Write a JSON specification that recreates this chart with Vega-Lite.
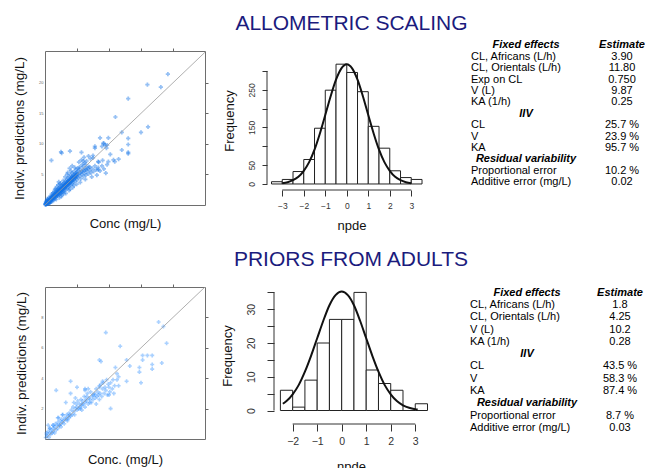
{
"$schema":"https://vega.github.io/schema/vega-lite/v6.json",
"autosize":{"type":"pad"},
"padding":{"left":12,"top":13,"right":0,"bottom":0},
"background":"white",
"config":{"view":{"stroke":null},"font":"Liberation Sans","axis":{"grid":false,"labelFont":"Liberation Sans","titleFont":"Liberation Sans","titleFontWeight":"normal","titleColor":"#111","labelColor":"#333","tickColor":"#333","labelOverlap":false}},
"datasets":{
"scatter_top":[
{"conc":0.1,"ipred":0.2},{"conc":0.2,"ipred":0.1},{"conc":0.2,"ipred":0.4},{"conc":0.3,"ipred":0.3},{"conc":0.3,"ipred":0.6},{"conc":0.4,"ipred":0.2},{"conc":0.4,"ipred":0.5},{"conc":0.5,"ipred":0.4},{"conc":0.5,"ipred":0.8},{"conc":0.6,"ipred":0.3},{"conc":0.6,"ipred":0.6},{"conc":0.7,"ipred":0.5},{"conc":0.7,"ipred":0.9},{"conc":0.8,"ipred":0.6},{"conc":0.8,"ipred":1.1},{"conc":0.9,"ipred":0.7},{"conc":0.9,"ipred":1.0},{"conc":1.0,"ipred":0.8},{"conc":1.0,"ipred":1.3},{"conc":1.1,"ipred":0.9},{"conc":1.1,"ipred":1.5},{"conc":1.2,"ipred":1.0},{"conc":1.2,"ipred":1.3},{"conc":1.3,"ipred":1.1},{"conc":1.3,"ipred":1.7},{"conc":1.4,"ipred":1.2},{"conc":1.4,"ipred":1.5},{"conc":1.5,"ipred":1.0},{"conc":1.5,"ipred":1.9},{"conc":0.15,"ipred":0.5},{"conc":0.25,"ipred":0.7},{"conc":0.45,"ipred":0.9},{"conc":0.55,"ipred":0.2},{"conc":0.65,"ipred":1.2},{"conc":0.75,"ipred":0.3},{"conc":0.85,"ipred":1.4},{"conc":0.95,"ipred":0.5},{"conc":1.05,"ipred":1.8},{"conc":1.15,"ipred":0.6},{"conc":1.25,"ipred":2.0},{"conc":1.35,"ipred":0.8},{"conc":1.45,"ipred":2.2},{"conc":0.35,"ipred":1.0},{"conc":0.05,"ipred":0.1},{"conc":0.1,"ipred":0.05},
{"conc":0.5,"ipred":0.6},{"conc":0.7,"ipred":0.7},{"conc":0.9,"ipred":0.85},{"conc":1.1,"ipred":1.1},{"conc":1.3,"ipred":1.4},{"conc":1.6,"ipred":1.6},{"conc":1.8,"ipred":1.9},{"conc":2.0,"ipred":2.1},{"conc":2.2,"ipred":2.3},{"conc":2.4,"ipred":2.5},{"conc":2.6,"ipred":2.6},{"conc":2.8,"ipred":2.9},{"conc":3.0,"ipred":3.1},{"conc":3.2,"ipred":3.2},{"conc":3.4,"ipred":3.5},{"conc":3.6,"ipred":3.6},{"conc":3.8,"ipred":3.9},{"conc":4.0,"ipred":4.1},{"conc":4.2,"ipred":4.3},{"conc":4.4,"ipred":4.5},{"conc":4.6,"ipred":4.7},{"conc":4.8,"ipred":4.9},
{"conc":0.1,"ipred":0.15},{"conc":0.2,"ipred":0.3},{"conc":0.3,"ipred":0.2},{"conc":0.4,"ipred":0.45},{"conc":0.5,"ipred":0.35},{"conc":0.6,"ipred":0.75},{"conc":0.7,"ipred":0.6},{"conc":0.8,"ipred":0.9},{"conc":0.9,"ipred":0.75},{"conc":1.0,"ipred":1.1},{"conc":1.1,"ipred":0.95},{"conc":1.2,"ipred":1.35},{"conc":1.3,"ipred":1.2},{"conc":1.4,"ipred":1.6},{"conc":1.5,"ipred":1.35},{"conc":1.6,"ipred":1.75},{"conc":1.7,"ipred":1.5},{"conc":1.8,"ipred":2.0},{"conc":1.9,"ipred":1.7},{"conc":2.0,"ipred":2.3},{"conc":2.1,"ipred":1.8},{"conc":2.2,"ipred":2.5},{"conc":2.3,"ipred":2.0},{"conc":2.4,"ipred":2.7},{"conc":2.5,"ipred":2.3},{"conc":2.6,"ipred":2.9},{"conc":2.7,"ipred":2.5},{"conc":2.8,"ipred":3.1},{"conc":2.9,"ipred":2.7},{"conc":3.0,"ipred":3.3},{"conc":3.1,"ipred":2.9},{"conc":3.2,"ipred":3.5},{"conc":3.3,"ipred":3.1},{"conc":3.4,"ipred":3.7},{"conc":3.5,"ipred":3.3},{"conc":3.6,"ipred":3.9},{"conc":3.7,"ipred":3.5},{"conc":3.8,"ipred":4.1},{"conc":3.9,"ipred":3.7},{"conc":4.0,"ipred":4.3},{"conc":4.1,"ipred":3.9},{"conc":4.2,"ipred":4.6},{"conc":4.3,"ipred":4.1},{"conc":4.4,"ipred":4.8},{"conc":4.5,"ipred":4.3},{"conc":4.6,"ipred":5.0},{"conc":4.7,"ipred":4.5},{"conc":4.8,"ipred":5.2},{"conc":4.9,"ipred":4.6},{"conc":5.0,"ipred":5.4},
{"conc":0.15,"ipred":0.3},{"conc":0.35,"ipred":0.5},{"conc":0.55,"ipred":0.55},{"conc":0.75,"ipred":0.8},{"conc":0.95,"ipred":1.05},{"conc":1.15,"ipred":1.25},{"conc":1.35,"ipred":1.45},{"conc":1.55,"ipred":1.6},{"conc":1.75,"ipred":1.85},{"conc":1.95,"ipred":2.05},{"conc":2.15,"ipred":2.2},{"conc":2.35,"ipred":2.45},{"conc":2.55,"ipred":2.6},{"conc":2.75,"ipred":2.8},{"conc":2.95,"ipred":3.0},{"conc":3.15,"ipred":3.2},{"conc":3.35,"ipred":3.4},{"conc":3.55,"ipred":3.6},{"conc":3.75,"ipred":3.8},{"conc":3.95,"ipred":4.0},{"conc":4.15,"ipred":4.2},{"conc":4.35,"ipred":4.4},{"conc":4.55,"ipred":4.6},{"conc":4.75,"ipred":4.8},{"conc":4.95,"ipred":5.0},
{"conc":5.2,"ipred":5.0},{"conc":5.5,"ipred":5.2},{"conc":5.8,"ipred":5.5},{"conc":6.1,"ipred":5.6},{"conc":6.4,"ipred":5.8},{"conc":6.7,"ipred":6.0},{"conc":7.0,"ipred":6.2},{"conc":5.1,"ipred":6.0},{"conc":5.4,"ipred":5.9},{"conc":5.9,"ipred":6.3},{"conc":6.3,"ipred":6.6},
{"conc":1.6,"ipred":1.4},{"conc":1.6,"ipred":1.8},{"conc":1.7,"ipred":1.3},{"conc":1.7,"ipred":2.1},{"conc":1.8,"ipred":1.6},{"conc":1.8,"ipred":2.4},{"conc":1.9,"ipred":1.5},{"conc":1.9,"ipred":2.0},{"conc":2.0,"ipred":1.7},{"conc":2.0,"ipred":2.6},{"conc":2.1,"ipred":1.9},{"conc":2.1,"ipred":2.3},{"conc":2.2,"ipred":1.6},{"conc":2.2,"ipred":2.8},{"conc":2.3,"ipred":2.1},{"conc":2.3,"ipred":2.5},{"conc":2.4,"ipred":1.9},{"conc":2.4,"ipred":3.0},{"conc":2.5,"ipred":2.2},{"conc":2.5,"ipred":2.7},{"conc":2.6,"ipred":2.0},{"conc":2.6,"ipred":3.2},{"conc":2.7,"ipred":2.4},{"conc":2.7,"ipred":2.9},{"conc":2.8,"ipred":2.2},{"conc":2.8,"ipred":3.4},{"conc":2.9,"ipred":2.6},{"conc":2.9,"ipred":3.0},{"conc":3.0,"ipred":2.3},{"conc":3.0,"ipred":3.6},{"conc":1.65,"ipred":2.7},{"conc":1.85,"ipred":3.0},{"conc":2.05,"ipred":3.3},{"conc":2.25,"ipred":1.2},{"conc":2.45,"ipred":3.6},{"conc":2.65,"ipred":1.6},{"conc":2.85,"ipred":4.0},{"conc":1.75,"ipred":0.9},{"conc":2.15,"ipred":3.8},{"conc":2.55,"ipred":1.4},{"conc":2.95,"ipred":1.9},{"conc":1.55,"ipred":2.5},{"conc":2.35,"ipred":3.4},
{"conc":3.1,"ipred":2.8},{"conc":3.1,"ipred":3.3},{"conc":3.2,"ipred":2.5},{"conc":3.2,"ipred":3.9},{"conc":3.3,"ipred":3.0},{"conc":3.3,"ipred":3.5},{"conc":3.4,"ipred":2.7},{"conc":3.4,"ipred":4.2},{"conc":3.5,"ipred":3.2},{"conc":3.5,"ipred":3.7},{"conc":3.6,"ipred":2.9},{"conc":3.6,"ipred":4.4},{"conc":3.7,"ipred":3.4},{"conc":3.7,"ipred":3.9},{"conc":3.8,"ipred":3.1},{"conc":3.8,"ipred":4.7},{"conc":3.9,"ipred":3.6},{"conc":3.9,"ipred":4.1},{"conc":4.0,"ipred":3.3},{"conc":4.0,"ipred":4.9},{"conc":4.1,"ipred":3.8},{"conc":4.1,"ipred":4.3},{"conc":4.2,"ipred":3.5},{"conc":4.2,"ipred":5.2},{"conc":4.3,"ipred":4.0},{"conc":4.3,"ipred":4.5},{"conc":4.4,"ipred":3.7},{"conc":4.5,"ipred":4.2},{"conc":4.5,"ipred":5.4},{"conc":4.6,"ipred":4.6},{"conc":4.7,"ipred":3.9},{"conc":4.8,"ipred":4.4},{"conc":4.8,"ipred":5.8},{"conc":4.9,"ipred":4.8},{"conc":5.0,"ipred":4.1},{"conc":5.0,"ipred":5.1},{"conc":3.15,"ipred":4.6},{"conc":3.45,"ipred":5.0},{"conc":3.75,"ipred":2.4},{"conc":4.05,"ipred":5.6},{"conc":4.35,"ipred":2.9},{"conc":4.65,"ipred":6.1},{"conc":4.95,"ipred":3.4},{"conc":3.25,"ipred":1.9},{"conc":3.55,"ipred":5.3},{"conc":3.85,"ipred":6.0},{"conc":4.25,"ipred":6.4},{"conc":4.55,"ipred":3.2},{"conc":3.95,"ipred":2.6},
{"conc":5.2,"ipred":4.5},{"conc":5.2,"ipred":5.6},{"conc":5.4,"ipred":4.8},{"conc":5.4,"ipred":6.2},{"conc":5.6,"ipred":4.3},{"conc":5.6,"ipred":5.4},{"conc":5.8,"ipred":5.0},{"conc":5.8,"ipred":6.6},{"conc":6.0,"ipred":4.7},{"conc":6.0,"ipred":5.8},{"conc":6.2,"ipred":5.2},{"conc":6.2,"ipred":6.9},{"conc":6.4,"ipred":4.9},{"conc":6.4,"ipred":6.0},{"conc":6.6,"ipred":5.5},{"conc":6.8,"ipred":5.1},{"conc":6.8,"ipred":6.3},{"conc":7.0,"ipred":5.7},{"conc":7.2,"ipred":5.3},{"conc":7.4,"ipred":6.0},{"conc":7.6,"ipred":5.5},{"conc":7.8,"ipred":6.4},{"conc":8.0,"ipred":5.8},{"conc":8.3,"ipred":6.1},{"conc":8.6,"ipred":5.6},{"conc":8.9,"ipred":6.4},{"conc":9.2,"ipred":5.9},{"conc":5.3,"ipred":7.0},{"conc":5.7,"ipred":7.4},{"conc":6.1,"ipred":7.8},{"conc":6.5,"ipred":7.2},{"conc":7.1,"ipred":7.6},{"conc":7.5,"ipred":8.1},{"conc":5.5,"ipred":3.7},{"conc":6.3,"ipred":4.2},{"conc":7.3,"ipred":4.6},{"conc":8.1,"ipred":4.9},{"conc":9.5,"ipred":5.2},{"conc":8.4,"ipred":7.0},{"conc":9.0,"ipred":7.3},{"conc":9.7,"ipred":6.6},
{"conc":8.6,"ipred":11.0},{"conc":9.1,"ipred":10.1},{"conc":7.8,"ipred":9.6},{"conc":5.7,"ipred":8.6},{"conc":2.5,"ipred":8.7},{"conc":1.0,"ipred":7.3},{"conc":12.0,"ipred":9.0},{"conc":9.9,"ipred":7.1},{"conc":10.7,"ipred":7.4},{"conc":8.3,"ipred":7.1},{"conc":7.5,"ipred":7.7},{"conc":6.8,"ipred":8.0},{"conc":6.0,"ipred":7.2},{"conc":2.6,"ipred":8.5},{"conc":3.9,"ipred":8.8},{"conc":9.9,"ipred":11.0},{"conc":9.7,"ipred":9.8},{"conc":7.8,"ipred":9.3},{"conc":8.3,"ipred":5.8},{"conc":10.9,"ipred":7.1},
{"conc":19.2,"ipred":21.4},{"conc":16.0,"ipred":19.7},{"conc":18.1,"ipred":19.3},{"conc":13.0,"ipred":17.4},{"conc":11.0,"ipred":14.4},{"conc":16.1,"ipred":12.8},{"conc":15.0,"ipred":11.9},{"conc":13.0,"ipred":10.9},{"conc":13.0,"ipred":9.9},{"conc":12.0,"ipred":11.9},{"conc":13.0,"ipred":8.6},{"conc":13.0,"ipred":8.4},{"conc":9.6,"ipred":9.3},{"conc":9.2,"ipred":10.1},{"conc":8.9,"ipred":9.6},{"conc":9.4,"ipred":9.8},{"conc":11.5,"ipred":7.5},{"conc":10.2,"ipred":8.3}
],
"scatter_bottom":[
{"conc":0.05,"ipred":0.1},{"conc":0.1,"ipred":0.3},{"conc":0.15,"ipred":0.2},{"conc":0.2,"ipred":0.5},{"conc":0.25,"ipred":0.1},{"conc":0.3,"ipred":0.4},{"conc":0.3,"ipred":0.7},{"conc":0.35,"ipred":0.3},{"conc":0.4,"ipred":0.6},{"conc":0.45,"ipred":0.4},{"conc":0.5,"ipred":0.9},{"conc":0.5,"ipred":0.5},{"conc":0.55,"ipred":0.7},{"conc":0.6,"ipred":0.4},{"conc":0.6,"ipred":0.8},{"conc":0.65,"ipred":1.0},{"conc":0.7,"ipred":0.6},{"conc":0.75,"ipred":0.9},{"conc":0.8,"ipred":0.7},{"conc":0.8,"ipred":1.1},{"conc":0.85,"ipred":1.4},{"conc":0.9,"ipred":0.9},{"conc":0.95,"ipred":1.2},{"conc":1.0,"ipred":1.0},{"conc":1.0,"ipred":0.8},{"conc":1.05,"ipred":1.3},{"conc":1.1,"ipred":1.1},{"conc":1.1,"ipred":1.6},{"conc":1.15,"ipred":1.2},{"conc":1.2,"ipred":1.0},{"conc":1.25,"ipred":1.4},{"conc":1.3,"ipred":1.3},{"conc":1.35,"ipred":1.6},{"conc":1.4,"ipred":1.2},{"conc":1.45,"ipred":1.5},{"conc":1.5,"ipred":1.4},{"conc":1.5,"ipred":1.7},{"conc":1.55,"ipred":1.6},{"conc":1.6,"ipred":1.5},{"conc":1.65,"ipred":1.9},{"conc":1.7,"ipred":1.6},{"conc":1.75,"ipred":2.1},{"conc":1.8,"ipred":1.8},{"conc":1.85,"ipred":1.6},{"conc":1.9,"ipred":2.0},{"conc":1.95,"ipred":2.3},{"conc":2.0,"ipred":1.9},{"conc":2.0,"ipred":2.1},{"conc":2.05,"ipred":2.5},{"conc":2.1,"ipred":2.0},{"conc":2.15,"ipred":2.3},{"conc":2.2,"ipred":2.1},{"conc":2.25,"ipred":2.6},{"conc":2.3,"ipred":2.2},{"conc":2.3,"ipred":1.9},{"conc":2.35,"ipred":2.5},{"conc":2.4,"ipred":2.3},{"conc":2.45,"ipred":2.8},{"conc":2.5,"ipred":2.4},{"conc":2.5,"ipred":2.1},{"conc":2.55,"ipred":2.6},{"conc":2.6,"ipred":2.5},{"conc":2.65,"ipred":3.0},{"conc":2.7,"ipred":2.3},{"conc":2.75,"ipred":2.7},{"conc":2.8,"ipred":2.6},{"conc":2.85,"ipred":3.1},{"conc":2.9,"ipred":2.4},{"conc":2.95,"ipred":2.8},{"conc":3.0,"ipred":2.9},{"conc":3.0,"ipred":2.6},{"conc":3.1,"ipred":3.0},{"conc":3.15,"ipred":2.7},{"conc":3.2,"ipred":3.3},{"conc":3.25,"ipred":2.8},{"conc":3.3,"ipred":3.1},{"conc":3.35,"ipred":2.9},{"conc":3.4,"ipred":3.5},{"conc":3.45,"ipred":3.0},{"conc":3.5,"ipred":3.6},{"conc":3.55,"ipred":2.8},{"conc":3.6,"ipred":3.3},{"conc":3.65,"ipred":3.7},{"conc":3.7,"ipred":3.0},{"conc":3.75,"ipred":3.4},{"conc":3.8,"ipred":3.2},{"conc":3.85,"ipred":3.9},{"conc":3.9,"ipred":2.9},{"conc":3.95,"ipred":3.6},{"conc":4.0,"ipred":3.4},{"conc":4.05,"ipred":3.1},{"conc":4.1,"ipred":3.7},{"conc":4.2,"ipred":3.3},{"conc":4.25,"ipred":3.9},{"conc":4.35,"ipred":3.5},{"conc":4.5,"ipred":3.9},{"conc":4.6,"ipred":3.5},
{"conc":7.1,"ipred":7.7},{"conc":7.4,"ipred":7.4},{"conc":7.6,"ipred":6.3},{"conc":3.8,"ipred":7.0},{"conc":4.7,"ipred":6.1},{"conc":3.4,"ipred":5.2},{"conc":3.5,"ipred":5.1},{"conc":0.7,"ipred":3.2},{"conc":1.6,"ipred":3.8},{"conc":6.1,"ipred":5.5},{"conc":6.4,"ipred":5.5},{"conc":6.7,"ipred":5.5},{"conc":6.1,"ipred":5.2},{"conc":7.3,"ipred":5.0},{"conc":6.7,"ipred":4.9},{"conc":6.7,"ipred":4.6},{"conc":5.9,"ipred":4.7},{"conc":5.9,"ipred":4.4},{"conc":6.0,"ipred":3.7},{"conc":5.1,"ipred":3.8},{"conc":5.3,"ipred":4.8},{"conc":5.1,"ipred":5.2},{"conc":4.4,"ipred":4.7},{"conc":4.5,"ipred":4.3},{"conc":4.6,"ipred":4.1},{"conc":4.1,"ipred":2.0},{"conc":4.0,"ipred":2.9},{"conc":4.3,"ipred":3.0},{"conc":3.4,"ipred":3.4},{"conc":3.6,"ipred":3.8},{"conc":2.7,"ipred":3.3},{"conc":2.5,"ipred":3.2},{"conc":2.0,"ipred":3.4},{"conc":1.9,"ipred":2.7},{"conc":2.6,"ipred":2.8},{"conc":2.8,"ipred":2.4},{"conc":2.3,"ipred":2.3},{"conc":1.8,"ipred":2.4},{"conc":2.2,"ipred":2.0},{"conc":3.2,"ipred":2.3},{"conc":3.4,"ipred":2.6},{"conc":3.1,"ipred":2.9},{"conc":1.1,"ipred":1.6},{"conc":1.4,"ipred":1.3},{"conc":0.8,"ipred":1.4},{"conc":0.5,"ipred":0.9},{"conc":0.3,"ipred":0.7},{"conc":0.1,"ipred":0.4},{"conc":0.9,"ipred":0.9},{"conc":0.2,"ipred":0.9},{"conc":1.6,"ipred":3.0},{"conc":1.3,"ipred":2.4},{"conc":2.5,"ipred":3.3}
],
"hist_top":[
{"bin_start":-3.5,"bin_end":-3,"count":6},{"bin_start":-3,"bin_end":-2.5,"count":12},{"bin_start":-2.5,"bin_end":-2,"count":33},{"bin_start":-2,"bin_end":-1.5,"count":65},{"bin_start":-1.5,"bin_end":-1,"count":148},{"bin_start":-1,"bin_end":-0.5,"count":249},{"bin_start":-0.5,"bin_end":0,"count":318},{"bin_start":0,"bin_end":0.5,"count":296},{"bin_start":0.5,"bin_end":1,"count":245},{"bin_start":1,"bin_end":1.5,"count":153},{"bin_start":1.5,"bin_end":2,"count":95},{"bin_start":2,"bin_end":2.5,"count":35},{"bin_start":2.5,"bin_end":3,"count":17},{"bin_start":3,"bin_end":3.5,"count":12}
],
"curve_top":[
{"npde":-3,"density":2.2},{"npde":-2.75,"density":4.8},{"npde":-2.5,"density":10},{"npde":-2.25,"density":19},{"npde":-2,"density":35},{"npde":-1.75,"density":58},{"npde":-1.5,"density":91},{"npde":-1.25,"density":134},{"npde":-1,"density":183},{"npde":-0.75,"density":233},{"npde":-0.5,"density":277},{"npde":-0.25,"density":307},{"npde":0,"density":318},{"npde":0.25,"density":307},{"npde":0.5,"density":277},{"npde":0.75,"density":233},{"npde":1,"density":183},{"npde":1.25,"density":134},{"npde":1.5,"density":91},{"npde":1.75,"density":58},{"npde":2,"density":35},{"npde":2.25,"density":19},{"npde":2.5,"density":10},{"npde":2.75,"density":4.8},{"npde":3,"density":2.2}
],
"hist_bottom":[
{"bin_start":-2.5,"bin_end":-2,"count":6},{"bin_start":-2,"bin_end":-1.5,"count":1},{"bin_start":-1.5,"bin_end":-1,"count":9},{"bin_start":-1,"bin_end":-0.5,"count":20},{"bin_start":-0.5,"bin_end":0,"count":27},{"bin_start":0,"bin_end":0.5,"count":27},{"bin_start":0.5,"bin_end":1,"count":35},{"bin_start":1,"bin_end":1.5,"count":12},{"bin_start":1.5,"bin_end":2,"count":8},{"bin_start":2,"bin_end":2.5,"count":6},{"bin_start":2.5,"bin_end":3,"count":0},{"bin_start":3,"bin_end":3.5,"count":2}
],
"curve_bottom":[
{"npde":-2.4,"density":2.0},{"npde":-2.25,"density":2.8},{"npde":-2,"density":4.8},{"npde":-1.75,"density":7.6},{"npde":-1.5,"density":11.5},{"npde":-1.25,"density":16.2},{"npde":-1,"density":21.4},{"npde":-0.75,"density":26.6},{"npde":-0.5,"density":31.2},{"npde":-0.25,"density":34.2},{"npde":0,"density":35.3},{"npde":0.25,"density":34.2},{"npde":0.5,"density":31.2},{"npde":0.75,"density":26.6},{"npde":1,"density":21.4},{"npde":1.25,"density":16.2},{"npde":1.5,"density":11.5},{"npde":1.75,"density":7.6},{"npde":2,"density":4.8},{"npde":2.25,"density":2.8},{"npde":2.5,"density":1.55},{"npde":2.75,"density":0.8},{"npde":3,"density":0.39},{"npde":3.1,"density":0.29}
],
"table_top":[
{"line":1,"parameter":"Fixed effects","estimate":"Estimate","kind":"header"},
{"line":2,"parameter":"CL, Africans (L/h)","estimate":"3.90","kind":"item"},
{"line":3,"parameter":"CL, Orientals (L/h)","estimate":"11.80","kind":"item"},
{"line":4,"parameter":"Exp on CL","estimate":"0.750","kind":"item"},
{"line":5,"parameter":"V (L)","estimate":"9.87","kind":"item"},
{"line":6,"parameter":"KA (1/h)","estimate":"0.25","kind":"item"},
{"line":7,"parameter":"IIV","estimate":"","kind":"section"},
{"line":8,"parameter":"CL","estimate":"25.7 %","kind":"item"},
{"line":9,"parameter":"V","estimate":"23.9 %","kind":"item"},
{"line":10,"parameter":"KA","estimate":"95.7 %","kind":"item"},
{"line":11,"parameter":"Residual variability","estimate":"","kind":"section"},
{"line":12,"parameter":"Proportional error","estimate":"10.2 %","kind":"item"},
{"line":13,"parameter":"Additive error (mg/L)","estimate":"0.02","kind":"item"}
],
"table_bottom":[
{"line":1,"parameter":"Fixed effects","estimate":"Estimate","kind":"header"},
{"line":2,"parameter":"CL, Africans (L/h)","estimate":"1.8","kind":"item"},
{"line":3,"parameter":"CL, Orientals (L/h)","estimate":"4.25","kind":"item"},
{"line":4,"parameter":"V (L)","estimate":"10.2","kind":"item"},
{"line":5,"parameter":"KA (1/h)","estimate":"0.28","kind":"item"},
{"line":6,"parameter":"IIV","estimate":"","kind":"section"},
{"line":7,"parameter":"CL","estimate":"43.5 %","kind":"item"},
{"line":8,"parameter":"V","estimate":"58.3 %","kind":"item"},
{"line":9,"parameter":"KA","estimate":"87.4 %","kind":"item"},
{"line":10,"parameter":"Residual variability","estimate":"","kind":"section"},
{"line":11,"parameter":"Proportional error","estimate":"8.7 %","kind":"item"},
{"line":12,"parameter":"Additive error (mg/L)","estimate":"0.03","kind":"item"}
]
},
"vconcat":[
{"hconcat":[
 {"width":160,"height":154,"view":{"stroke":"#6e6e6e","strokeWidth":1},
  "layer":[
   {"data":{"name":"scatter_top"},"mark":{"type":"point","shape":"cross","filled":true,"size":18,"color":"#1373e6","opacity":0.45},
    "encoding":{
     "x":{"field":"conc","type":"quantitative","scale":{"domain":[0,25],"nice":false,"zero":false},"axis":{"orient":"bottom","title":"Conc (mg/L)","titleFontSize":13,"titlePadding":12,"labels":false,"ticks":false,"domain":false}},
     "y":{"field":"ipred","type":"quantitative","scale":{"domain":[0,25.2],"nice":false,"zero":false},"axis":{"orient":"left","title":"Indiv. predictions (mg/L)","titleFontSize":13.5,"titlePadding":12,"values":[5,10,15,20],"tickCount":20,"format":"d","ticks":false,"domain":false,"labelFontSize":4,"labelPadding":2,"labelColor":"#666"}}}},
   {"data":{"values":[{"line":"identity"}]},"mark":{"type":"rule","color":"#9a9a9a","strokeWidth":0.8},
    "encoding":{
     "x":{"datum":0,"type":"quantitative","axis":{"orient":"top","title":null,"labels":false,"values":[5,10,15,20],"tickCount":20,"tickSize":3,"domain":false,"tickColor":"#666"}},
     "x2":{"datum":25},
     "y":{"datum":0,"type":"quantitative","axis":{"orient":"right","title":null,"labels":false,"values":[5,10,15,20],"tickCount":20,"tickSize":3,"domain":false,"tickColor":"#666"}},
     "y2":{"datum":25}}}
  ],
  "resolve":{"axis":{"x":"independent","y":"independent"}}
 },
 {"hconcat":[
  {"width":169,"height":139,
   "title":{"text":"ALLOMETRIC SCALING","fontSize":21,"font":"Liberation Sans","fontWeight":"normal","color":"#1b1b7d","anchor":"middle","frame":"group","offset":0,"baseline":"alphabetic"},
   "layer":[
    {"data":{"name":"hist_top"},"mark":{"type":"rect","fill":"white","stroke":"#222","strokeWidth":1},
     "encoding":{
      "x":{"field":"bin_start","type":"quantitative","scale":{"domain":[-3.71,4.15],"nice":false,"zero":false},"axis":{"values":[-3,-2,-1,0,1,2,3],"tickCount":20,"format":"d","labelOverlap":false,"domain":false,"tickSize":6,"labelFontSize":8.5,"labelPadding":5,"title":"npde","titleFontSize":13,"titlePadding":10}},
      "x2":{"field":"bin_end"},
      "y":{"field":"count","type":"quantitative","scale":{"domain":[-16,353],"nice":false,"zero":false},"axis":{"values":[0,50,100,150,200,250,300],"tickCount":20,"format":"d","labelOverlap":false,"labelExpr":"(datum.value==0||datum.value==50||datum.value==150||datum.value==250) ? datum.label : ''","labelAngle":-90,"labelAlign":"center","labelBaseline":"bottom","domain":false,"tickSize":5,"labelFontSize":8.5,"labelPadding":6,"title":"Frequency","titleFontSize":13,"titlePadding":11}},
      "y2":{"datum":0}}},
    {"data":{"name":"curve_top"},"mark":{"type":"line","color":"#111","strokeWidth":2,"interpolate":"monotone"},
     "encoding":{"x":{"field":"npde","type":"quantitative"},"y":{"field":"density","type":"quantitative"}}},
    {"data":{"values":[{"axis":"x"}]},"mark":{"type":"rule","color":"#333"},
     "encoding":{"x":{"datum":-3},"x2":{"datum":3},"y":{"datum":-16}}},
    {"data":{"values":[{"axis":"y"}]},"mark":{"type":"rule","color":"#333"},
     "encoding":{"x":{"datum":-3.71},"y":{"datum":0},"y2":{"datum":300}}}
   ]
  },
  {"width":151,"height":139,"data":{"name":"table_top"},
   "encoding":{"y":{"field":"line","type":"quantitative","scale":{"domain":[1.483,13.676],"reverse":true,"nice":false,"zero":false},"axis":null}},
   "layer":[
    {"transform":[{"filter":"datum.kind == 'item'"}],"mark":{"type":"text","align":"left","baseline":"middle","fontSize":11,"color":"#000"},
     "encoding":{"x":{"datum":"Parameter","type":"nominal","scale":{"type":"point","domain":["Parameter","Estimate"],"padding":0},"axis":null},"text":{"field":"parameter"}}},
    {"transform":[{"filter":"datum.kind != 'item'"}],"mark":{"type":"text","align":"center","baseline":"middle","fontSize":11,"fontWeight":"bold","fontStyle":"italic","color":"#000","dx":55},
     "encoding":{"x":{"datum":"Parameter","type":"nominal"},"text":{"field":"parameter"}}},
    {"transform":[{"filter":"datum.kind == 'item'"}],"mark":{"type":"text","align":"center","baseline":"middle","fontSize":11,"color":"#000"},
     "encoding":{"x":{"datum":"Estimate","type":"nominal"},"text":{"field":"estimate"}}},
    {"transform":[{"filter":"datum.kind == 'header'"}],"mark":{"type":"text","align":"center","baseline":"middle","fontSize":11,"fontWeight":"bold","fontStyle":"italic","color":"#000"},
     "encoding":{"x":{"datum":"Estimate","type":"nominal"},"text":{"field":"estimate"}}}
   ]
  }
 ],"spacing":35,"bounds":"flush"}
],"spacing":62,"bounds":"flush"},
{"hconcat":[
 {"width":160,"height":152,"view":{"stroke":"#6e6e6e","strokeWidth":1},
  "layer":[
   {"data":{"name":"scatter_bottom"},"mark":{"type":"point","shape":"cross","filled":true,"size":16,"color":"#2b8cff","opacity":0.4},
    "encoding":{
     "x":{"field":"conc","type":"quantitative","scale":{"domain":[0,10],"nice":false,"zero":false},"axis":{"orient":"bottom","title":"Conc. (mg/L)","titleFontSize":13,"titlePadding":14,"labels":false,"ticks":false,"domain":false}},
     "y":{"field":"ipred","type":"quantitative","scale":{"domain":[0,10],"nice":false,"zero":false},"axis":{"orient":"left","title":"Indiv. predictions (mg/L)","titleFontSize":13.5,"titlePadding":12,"values":[2,4,6,8],"tickCount":20,"format":"d","ticks":false,"domain":false,"labelFontSize":4,"labelPadding":2,"labelColor":"#666"}}}},
   {"data":{"values":[{"line":"identity"}]},"mark":{"type":"rule","color":"#9a9a9a","strokeWidth":0.8},
    "encoding":{
     "x":{"datum":0,"type":"quantitative","axis":{"orient":"top","title":null,"labels":false,"values":[2,4,6,8],"tickCount":20,"tickSize":3,"domain":false,"tickColor":"#666"}},
     "x2":{"datum":10},
     "y":{"datum":0,"type":"quantitative","axis":{"orient":"right","title":null,"labels":false,"values":[2,4,6,8],"tickCount":20,"tickSize":3,"domain":false,"tickColor":"#666"}},
     "y2":{"datum":10}}}
  ],
  "resolve":{"axis":{"x":"independent","y":"independent"}}
 },
 {"hconcat":[
  {"width":154,"height":137,
   "title":{"text":"PRIORS FROM ADULTS","fontSize":21,"font":"Liberation Sans","fontWeight":"normal","color":"#1b1b7d","anchor":"middle","frame":"group","offset":0,"baseline":"alphabetic"},
   "layer":[
    {"data":{"name":"hist_bottom"},"mark":{"type":"rect","fill":"white","stroke":"#222","strokeWidth":1},
     "encoding":{
      "x":{"field":"bin_start","type":"quantitative","scale":{"domain":[-2.761,3.52],"nice":false,"zero":false},"axis":{"values":[-2,-1,0,1,2,3],"tickCount":20,"format":"d","labelOverlap":false,"domain":false,"tickSize":7,"labelFontSize":10.5,"labelPadding":5,"title":"npde","titleFontSize":13,"titlePadding":14}},
      "x2":{"field":"bin_end"},
      "y":{"field":"count","type":"quantitative","scale":{"domain":[-4,36.6],"nice":false,"zero":false},"axis":{"values":[0,5,10,15,20,25,30,35],"tickCount":20,"format":"d","labelOverlap":false,"labelExpr":"(datum.value % 10 == 0) ? datum.label : ''","labelAngle":-90,"labelAlign":"center","labelBaseline":"bottom","domain":false,"tickSize":7,"labelFontSize":10.5,"labelPadding":11,"title":"Frequency","titleFontSize":13,"titlePadding":12}},
      "y2":{"datum":0}}},
    {"data":{"name":"curve_bottom"},"mark":{"type":"line","color":"#111","strokeWidth":2,"interpolate":"monotone"},
     "encoding":{"x":{"field":"npde","type":"quantitative"},"y":{"field":"density","type":"quantitative"}}},
    {"data":{"values":[{"axis":"x"}]},"mark":{"type":"rule","color":"#333"},
     "encoding":{"x":{"datum":-2},"x2":{"datum":3},"y":{"datum":-4}}},
    {"data":{"values":[{"axis":"y"}]},"mark":{"type":"rule","color":"#333"},
     "encoding":{"x":{"datum":-2.761},"y":{"datum":0},"y2":{"datum":35}}}
   ]
  },
  {"width":150,"height":137,"data":{"name":"table_bottom"},
   "encoding":{"y":{"field":"line","type":"quantitative","scale":{"domain":[0.536,11.676],"reverse":true,"nice":false,"zero":false},"axis":null}},
   "layer":[
    {"transform":[{"filter":"datum.kind == 'item'"}],"mark":{"type":"text","align":"left","baseline":"middle","fontSize":11,"color":"#000"},
     "encoding":{"x":{"datum":"Parameter","type":"nominal","scale":{"type":"point","domain":["Parameter","Estimate"],"padding":0},"axis":null},"text":{"field":"parameter"}}},
    {"transform":[{"filter":"datum.kind != 'item'"}],"mark":{"type":"text","align":"center","baseline":"middle","fontSize":11,"fontWeight":"bold","fontStyle":"italic","color":"#000","dx":57},
     "encoding":{"x":{"datum":"Parameter","type":"nominal"},"text":{"field":"parameter"}}},
    {"transform":[{"filter":"datum.kind == 'item'"}],"mark":{"type":"text","align":"center","baseline":"middle","fontSize":11,"color":"#000"},
     "encoding":{"x":{"datum":"Estimate","type":"nominal"},"text":{"field":"estimate"}}},
    {"transform":[{"filter":"datum.kind == 'header'"}],"mark":{"type":"text","align":"center","baseline":"middle","fontSize":11,"fontWeight":"bold","fontStyle":"italic","color":"#000"},
     "encoding":{"x":{"datum":"Estimate","type":"nominal"},"text":{"field":"estimate"}}}
   ]
  }
 ],"spacing":42,"bounds":"flush"}
],"spacing":69,"bounds":"flush"}
],
"spacing":236,"bounds":"flush"
}
